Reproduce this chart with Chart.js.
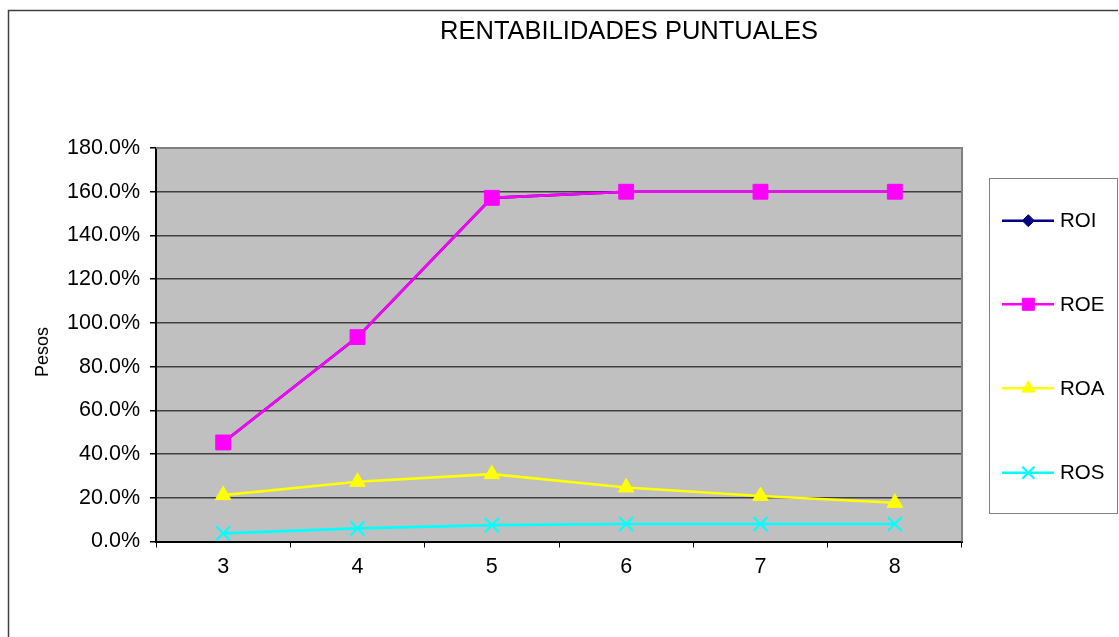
<!DOCTYPE html>
<html>
<head>
<meta charset="utf-8">
<title>Rentabilidades puntuales</title>
<script src="https://cdn.jsdelivr.net/npm/chart.js@4/dist/chart.umd.min.js"></script>
<style>
  html, body { margin: 0; padding: 0; background: #ffffff; }
  #wrap { width: 1119px; height: 637px; position: relative; }
</style>
</head>
<body>
<div id="wrap"><canvas id="chart" width="1119" height="637"></canvas></div>
<script>
// Periods on the horizontal axis
const periods = ['3', '4', '5', '6', '7', '8'];

// Returns per period, in percent
const roi = [45.3, 93.5, 157.2, 160.0, 160.0, 160.0];
const roe = [45.3, 93.5, 157.2, 160.0, 160.0, 160.0];
const roa = [21.2, 27.3, 30.8, 24.7, 20.8, 17.7];
const ros = [3.7, 6.0, 7.5, 8.0, 8.0, 8.0];

const seriesNames = ['ROI', 'ROE', 'ROA', 'ROS'];
const chartTitle = 'RENTABILIDADES PUNTUALES';
const yAxisTitle = 'Pesos';

const FONT = '"Liberation Sans", Arial, sans-serif';

// drawOrder: higher numbers are painted first (underneath)
const styles = [
  { color: '#000080', pointStyle: 'rectRot', radius: 7,    legendRadius: 6,   drawOrder: 4 },
  { color: '#FF00FF', pointStyle: 'rect',    radius: 10.5, legendRadius: 8.5, drawOrder: 3 },
  { color: '#FFFF00', pointStyle: 'triangle', radius: 9,   legendRadius: 7.5, drawOrder: 2 },
  { color: '#00FFFF', pointStyle: 'crossRot', radius: 10,  legendRadius: 8.5, drawOrder: 1 }
];

function makeDataset(label, data, st) {
  return {
    label: label,
    data: data,
    order: st.drawOrder,
    borderColor: st.color,
    backgroundColor: st.color,
    borderWidth: 2.6,
    pointStyle: st.pointStyle,
    pointRadius: st.radius,
    pointHoverRadius: st.radius,
    pointBackgroundColor: st.color,
    pointBorderColor: st.color,
    pointBorderWidth: st.pointStyle === 'crossRot' ? 2.2 : 1,
    tension: 0,
    fill: false
  };
}

// Grey plot background, plot frame, outer frame, title, axis title and boxed legend
const decorations = {
  id: 'decorations',
  beforeDraw(chart) {
    const { ctx, chartArea: a } = chart;
    ctx.save();
    ctx.fillStyle = '#C0C0C0';
    ctx.fillRect(a.left, a.top, a.right - a.left, a.bottom - a.top);
    ctx.restore();
  },
  afterDatasetsDraw(chart) {
    const { ctx, chartArea: a } = chart;
    ctx.save();
    // top and right edges of the plot frame
    ctx.strokeStyle = '#808080';
    ctx.lineWidth = 2;
    ctx.beginPath();
    ctx.moveTo(a.left, a.top);
    ctx.lineTo(a.right, a.top);
    ctx.lineTo(a.right, a.bottom);
    ctx.stroke();
    ctx.restore();
  },
  afterDraw(chart) {
    const { ctx } = chart;
    ctx.save();

    // outer frame
    ctx.strokeStyle = '#404040';
    ctx.lineWidth = 1.5;
    ctx.beginPath();
    ctx.moveTo(8.5, 637);
    ctx.lineTo(8.5, 10.5);
    ctx.lineTo(1118, 10.5);
    ctx.stroke();

    // chart title
    ctx.fillStyle = '#000000';
    ctx.font = '25.5px ' + FONT;
    ctx.textAlign = 'center';
    ctx.textBaseline = 'middle';
    ctx.fillText(chartTitle, 629, 32);

    // vertical axis title
    ctx.save();
    ctx.translate(43, 352);
    ctx.rotate(-Math.PI / 2);
    ctx.font = '18px ' + FONT;
    ctx.fillText(yAxisTitle, 0, 0);
    ctx.restore();

    // legend box
    const bx = 989.5, by = 178.5, bw = 128, bh = 335;
    ctx.fillStyle = '#FFFFFF';
    ctx.fillRect(bx, by, bw, bh);
    ctx.strokeStyle = '#808080';
    ctx.lineWidth = 1;
    ctx.strokeRect(bx, by, bw, bh);

    const rowsY = [220.7, 304.3, 388.3, 472.7];
    chart.data.datasets.forEach((ds, i) => {
      const st = styles[i];
      const y = rowsY[i];
      ctx.strokeStyle = st.color;
      ctx.fillStyle = st.color;
      ctx.lineWidth = 2.6;
      ctx.beginPath();
      ctx.moveTo(1002, y);
      ctx.lineTo(1054, y);
      ctx.stroke();
      ctx.lineWidth = st.pointStyle === 'crossRot' ? 2.2 : 1;
      Chart.helpers.drawPoint(ctx, {
        pointStyle: st.pointStyle,
        radius: st.legendRadius,
        rotation: 0,
        borderWidth: ctx.lineWidth
      }, 1028.3, y);
      ctx.fillStyle = '#000000';
      ctx.font = '20.5px ' + FONT;
      ctx.textAlign = 'left';
      ctx.textBaseline = 'middle';
      ctx.fillText(ds.label, 1060, y + 1);
    });

    ctx.restore();
  }
};

new Chart(document.getElementById('chart'), {
  type: 'line',
  data: {
    labels: periods,
    datasets: [
      makeDataset(seriesNames[0], roi, styles[0]),
      makeDataset(seriesNames[1], roe, styles[1]),
      makeDataset(seriesNames[2], roa, styles[2]),
      makeDataset(seriesNames[3], ros, styles[3])
    ]
  },
  options: {
    responsive: false,
    animation: false,
    events: [],
    layout: { padding: { left: 0, top: 148, right: 157, bottom: 0 } },
    plugins: {
      legend: { display: false },
      title: { display: false },
      tooltip: { enabled: false }
    },
    scales: {
      x: {
        type: 'category',
        offset: true,
        afterFit(scale) { scale.height = 95.5; },
        grid: {
          offset: true,
          drawOnChartArea: false,
          drawTicks: true,
          tickLength: 6,
          color: '#000000',
          lineWidth: 1
        },
        border: { color: '#000000', width: 2 },
        ticks: {
          color: '#000000',
          font: { family: FONT, size: 21.5 },
          padding: 7,
          maxRotation: 0
        }
      },
      y: {
        min: 0,
        max: 180,
        afterFit(scale) { scale.width = 156; },
        grid: {
          drawTicks: true,
          tickLength: 6,
          color: (c) => (c.tick && c.tick.value === 0 ? '#000000' : '#404040'),
          tickColor: '#000000',
          lineWidth: 1.5
        },
        border: { color: '#000000', width: 2 },
        ticks: {
          stepSize: 20,
          color: '#000000',
          font: { family: FONT, size: 21.5 },
          padding: 10,
          callback: (v) => v.toFixed(1) + '%'
        }
      }
    }
  },
  plugins: [decorations]
});
</script>
</body>
</html>
